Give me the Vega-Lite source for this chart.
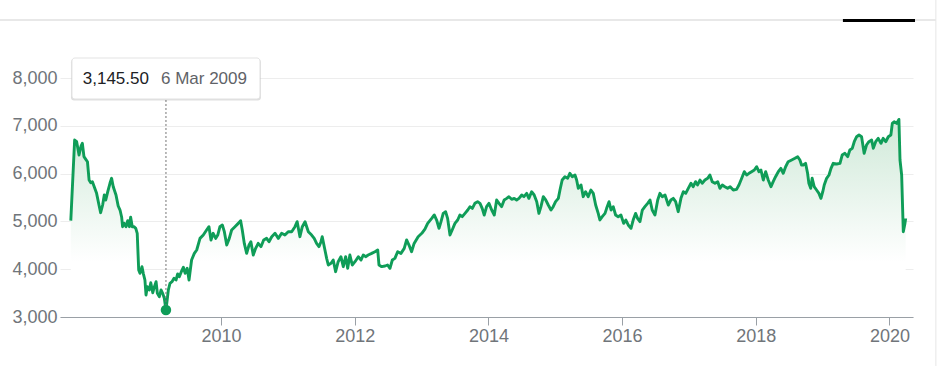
{
  "$schema": "https://vega.github.io/schema/vega-lite/v6.json",
  "width": 853,
  "height": 239,
  "autosize": {"type": "none"},
  "padding": {"left": 60, "top": 78, "right": 26, "bottom": 49},
  "background": "#ffffff",
  "config": {
    "view": {"stroke": null},
    "font": "Liberation Sans",
    "axis": {"labelFont": "Liberation Sans", "labelFontSize": 18, "labelColor": "#70757a", "title": null}
  },
  "datasets": {
    "prices": [
      {"date":"2007-10-03","close":5015},{"date":"2007-10-24","close":6703},{"date":"2007-11-04","close":6667},{"date":"2007-11-17","close":6389},{"date":"2007-11-28","close":6577},{"date":"2007-12-05","close":6634},{"date":"2007-12-14","close":6354},{"date":"2007-12-24","close":6299},
      {"date":"2008-01-02","close":6249},{"date":"2008-01-11","close":5866},{"date":"2008-01-20","close":5810},{"date":"2008-01-29","close":5831},{"date":"2008-02-08","close":5726},{"date":"2008-02-21","close":5587},{"date":"2008-03-05","close":5343},{"date":"2008-03-14","close":5182},{"date":"2008-03-25","close":5343},{"date":"2008-04-03","close":5552},{"date":"2008-04-11","close":5448},{"date":"2008-04-22","close":5621},{"date":"2008-05-04","close":5797},{"date":"2008-05-13","close":5902},{"date":"2008-05-22","close":5726},{"date":"2008-06-06","close":5552},{"date":"2008-06-18","close":5322},{"date":"2008-06-28","close":5238},{"date":"2008-07-07","close":5086},{"date":"2008-07-12","close":4889},{"date":"2008-07-21","close":4959},{"date":"2008-07-31","close":4889},{"date":"2008-08-09","close":5015},{"date":"2008-08-18","close":4889},{"date":"2008-08-25","close":5086},{"date":"2008-09-03","close":4889},{"date":"2008-09-12","close":4889},{"date":"2008-09-22","close":4855},{"date":"2008-09-30","close":4751},{"date":"2008-10-08","close":3983},{"date":"2008-10-15","close":3914},{"date":"2008-10-26","close":4053},{"date":"2008-11-02","close":3914},{"date":"2008-11-11","close":3774},{"date":"2008-11-17","close":3460},{"date":"2008-11-24","close":3634},{"date":"2008-12-05","close":3565},{"date":"2008-12-13","close":3718},{"date":"2008-12-24","close":3508},
      {"date":"2009-01-02","close":3634},{"date":"2009-01-11","close":3739},{"date":"2009-01-18","close":3495},{"date":"2009-01-29","close":3425},{"date":"2009-02-07","close":3565},{"date":"2009-02-16","close":3495},{"date":"2009-02-25","close":3391},{"date":"2009-03-06","close":3145.5},{"date":"2009-03-19","close":3565},{"date":"2009-03-28","close":3704},{"date":"2009-04-08","close":3739},{"date":"2009-04-19","close":3809},{"date":"2009-04-30","close":3774},{"date":"2009-05-09","close":3900},{"date":"2009-05-18","close":3843},{"date":"2009-05-29","close":3948},{"date":"2009-06-09","close":4040},{"date":"2009-06-19","close":3914},{"date":"2009-06-30","close":4019},{"date":"2009-07-10","close":3774},{"date":"2009-07-24","close":4192},{"date":"2009-08-08","close":4331},{"date":"2009-08-21","close":4402},{"date":"2009-09-08","close":4645},{"date":"2009-09-26","close":4715},{"date":"2009-10-14","close":4820},{"date":"2009-10-27","close":4889},{"date":"2009-11-07","close":4611},{"date":"2009-11-19","close":4751},{"date":"2009-12-03","close":4645},{"date":"2009-12-14","close":4715},{"date":"2009-12-26","close":4889},
      {"date":"2010-01-08","close":4925},{"date":"2010-01-19","close":4785},{"date":"2010-02-01","close":4506},{"date":"2010-02-15","close":4645},{"date":"2010-02-28","close":4820},{"date":"2010-03-18","close":4889},{"date":"2010-04-05","close":4959},{"date":"2010-04-18","close":5015},{"date":"2010-04-27","close":4820},{"date":"2010-05-08","close":4540},{"date":"2010-05-21","close":4331},{"date":"2010-06-03","close":4506},{"date":"2010-06-13","close":4575},{"date":"2010-06-26","close":4297},{"date":"2010-07-09","close":4436},{"date":"2010-07-23","close":4540},{"date":"2010-08-07","close":4471},{"date":"2010-08-22","close":4611},{"date":"2010-09-07","close":4645},{"date":"2010-09-20","close":4575},{"date":"2010-10-05","close":4680},{"date":"2010-10-23","close":4751},{"date":"2010-11-10","close":4645},{"date":"2010-11-28","close":4751},{"date":"2010-12-16","close":4715},
      {"date":"2011-01-03","close":4785},{"date":"2011-01-22","close":4785},{"date":"2011-02-09","close":4889},{"date":"2011-02-21","close":4994},{"date":"2011-03-08","close":4680},{"date":"2011-03-21","close":4889},{"date":"2011-04-05","close":4994},{"date":"2011-04-23","close":4785},{"date":"2011-05-11","close":4715},{"date":"2011-05-25","close":4645},{"date":"2011-06-07","close":4540},{"date":"2011-06-20","close":4471},{"date":"2011-07-01","close":4575},{"date":"2011-07-08","close":4680},{"date":"2011-07-19","close":4471},{"date":"2011-08-01","close":4227},{"date":"2011-08-10","close":4088},{"date":"2011-08-25","close":4123},{"date":"2011-09-06","close":4192},{"date":"2011-09-19","close":3948},{"date":"2011-10-03","close":4157},{"date":"2011-10-18","close":4262},{"date":"2011-10-31","close":4053},{"date":"2011-11-13","close":4262},{"date":"2011-11-24","close":4019},{"date":"2011-12-06","close":4297},{"date":"2011-12-19","close":4088},
      {"date":"2012-01-03","close":4157},{"date":"2012-01-21","close":4262},{"date":"2012-02-05","close":4192},{"date":"2012-02-17","close":4297},{"date":"2012-03-01","close":4262},{"date":"2012-03-15","close":4297},{"date":"2012-04-03","close":4331},{"date":"2012-04-21","close":4366},{"date":"2012-05-06","close":4402},{"date":"2012-05-13","close":4088},{"date":"2012-05-28","close":4053},{"date":"2012-06-15","close":4067},{"date":"2012-06-29","close":4088},{"date":"2012-07-12","close":4019},{"date":"2012-07-25","close":4192},{"date":"2012-08-08","close":4227},{"date":"2012-08-23","close":4366},{"date":"2012-09-10","close":4331},{"date":"2012-09-28","close":4436},{"date":"2012-10-11","close":4611},{"date":"2012-10-24","close":4506},{"date":"2012-11-07","close":4366},{"date":"2012-11-21","close":4540},{"date":"2012-12-13","close":4680},
      {"date":"2013-01-02","close":4751},{"date":"2013-01-19","close":4840},{"date":"2013-02-03","close":4960},{"date":"2013-02-25","close":5064},{"date":"2013-03-11","close":5134},{"date":"2013-03-24","close":5029},{"date":"2013-04-06","close":4855},{"date":"2013-04-17","close":4994},{"date":"2013-04-29","close":5168},{"date":"2013-05-12","close":5203},{"date":"2013-05-23","close":5064},{"date":"2013-06-05","close":4715},{"date":"2013-06-17","close":4820},{"date":"2013-07-02","close":4959},{"date":"2013-07-17","close":5029},{"date":"2013-07-29","close":5134},{"date":"2013-08-11","close":5099},{"date":"2013-08-26","close":5168},{"date":"2013-09-10","close":5238},{"date":"2013-09-22","close":5308},{"date":"2013-10-05","close":5273},{"date":"2013-10-19","close":5378},{"date":"2013-11-03","close":5413},{"date":"2013-11-16","close":5378},{"date":"2013-11-28","close":5273},{"date":"2013-12-09","close":5134},{"date":"2013-12-22","close":5308},
      {"date":"2014-01-04","close":5378},{"date":"2014-01-19","close":5238},{"date":"2014-02-02","close":5134},{"date":"2014-02-15","close":5448},{"date":"2014-02-28","close":5378},{"date":"2014-03-14","close":5308},{"date":"2014-03-28","close":5448},{"date":"2014-04-11","close":5482},{"date":"2014-04-23","close":5517},{"date":"2014-05-08","close":5462},{"date":"2014-05-22","close":5482},{"date":"2014-06-04","close":5448},{"date":"2014-06-17","close":5482},{"date":"2014-07-02","close":5552},{"date":"2014-07-14","close":5517},{"date":"2014-07-29","close":5587},{"date":"2014-08-10","close":5482},{"date":"2014-08-25","close":5621},{"date":"2014-09-08","close":5552},{"date":"2014-09-22","close":5413},{"date":"2014-10-04","close":5168},{"date":"2014-10-15","close":5308},{"date":"2014-10-28","close":5517},{"date":"2014-11-10","close":5450},{"date":"2014-11-24","close":5343},{"date":"2014-12-09","close":5238},{"date":"2014-12-21","close":5308},
      {"date":"2015-01-03","close":5413},{"date":"2015-01-18","close":5482},{"date":"2015-01-27","close":5657},{"date":"2015-02-08","close":5866},{"date":"2015-02-23","close":5935},{"date":"2015-03-10","close":5902},{"date":"2015-03-22","close":6006},{"date":"2015-04-04","close":5935},{"date":"2015-04-19","close":5971},{"date":"2015-04-28","close":5866},{"date":"2015-05-07","close":5692},{"date":"2015-05-22","close":5762},{"date":"2015-06-03","close":5517},{"date":"2015-06-16","close":5621},{"date":"2015-06-30","close":5517},{"date":"2015-07-15","close":5657},{"date":"2015-07-28","close":5587},{"date":"2015-08-10","close":5343},{"date":"2015-08-24","close":5168},{"date":"2015-09-02","close":5029},{"date":"2015-09-15","close":5099},{"date":"2015-09-30","close":5168},{"date":"2015-10-09","close":5273},{"date":"2015-10-22","close":5413},{"date":"2015-11-02","close":5238},{"date":"2015-11-14","close":5308},{"date":"2015-11-27","close":5134},{"date":"2015-12-11","close":5099},{"date":"2015-12-26","close":5134},
      {"date":"2016-01-10","close":4959},{"date":"2016-01-22","close":5029},{"date":"2016-02-04","close":4925},{"date":"2016-02-19","close":4855},{"date":"2016-03-02","close":5029},{"date":"2016-03-15","close":5168},{"date":"2016-03-26","close":5064},{"date":"2016-04-08","close":4994},{"date":"2016-04-21","close":5238},{"date":"2016-05-05","close":5308},{"date":"2016-05-20","close":5378},{"date":"2016-06-02","close":5448},{"date":"2016-06-14","close":5238},{"date":"2016-06-29","close":5134},{"date":"2016-07-14","close":5448},{"date":"2016-07-26","close":5587},{"date":"2016-08-08","close":5517},{"date":"2016-08-23","close":5552},{"date":"2016-09-10","close":5343},{"date":"2016-09-24","close":5448},{"date":"2016-10-07","close":5482},{"date":"2016-10-20","close":5413},{"date":"2016-11-03","close":5203},{"date":"2016-11-18","close":5482},{"date":"2016-12-01","close":5621},{"date":"2016-12-14","close":5587},{"date":"2016-12-28","close":5692},
      {"date":"2017-01-12","close":5797},{"date":"2017-01-24","close":5726},{"date":"2017-02-06","close":5831},{"date":"2017-02-17","close":5762},{"date":"2017-03-02","close":5866},{"date":"2017-03-14","close":5797},{"date":"2017-03-29","close":5866},{"date":"2017-04-13","close":5902},{"date":"2017-04-25","close":5971},{"date":"2017-05-08","close":5831},{"date":"2017-05-23","close":5797},{"date":"2017-06-07","close":5831},{"date":"2017-06-19","close":5692},{"date":"2017-07-02","close":5762},{"date":"2017-07-16","close":5726},{"date":"2017-07-31","close":5692},{"date":"2017-08-14","close":5726},{"date":"2017-08-31","close":5657},{"date":"2017-09-18","close":5671},{"date":"2017-10-01","close":5762},{"date":"2017-10-16","close":5902},{"date":"2017-10-30","close":6040},{"date":"2017-11-12","close":5971},{"date":"2017-11-25","close":6006},{"date":"2017-12-09","close":6040},{"date":"2017-12-24","close":6075},
      {"date":"2018-01-06","close":6144},{"date":"2018-01-18","close":6040},{"date":"2018-01-29","close":6075},{"date":"2018-02-11","close":5866},{"date":"2018-02-24","close":6040},{"date":"2018-03-10","close":5866},{"date":"2018-03-25","close":5726},{"date":"2018-04-06","close":5831},{"date":"2018-04-19","close":5935},{"date":"2018-05-04","close":6040},{"date":"2018-05-18","close":6110},{"date":"2018-05-31","close":6006},{"date":"2018-06-13","close":6144},{"date":"2018-06-27","close":6249},{"date":"2018-07-16","close":6285},{"date":"2018-08-03","close":6320},{"date":"2018-08-18","close":6354},{"date":"2018-08-30","close":6285},{"date":"2018-09-08","close":6180},{"date":"2018-09-17","close":6180},{"date":"2018-09-30","close":6215},{"date":"2018-10-11","close":6006},{"date":"2018-10-18","close":5797},{"date":"2018-10-28","close":5692},{"date":"2018-11-05","close":5902},{"date":"2018-11-16","close":5726},{"date":"2018-11-29","close":5657},{"date":"2018-12-12","close":5587},{"date":"2018-12-23","close":5482},
      {"date":"2019-01-02","close":5621},{"date":"2019-01-10","close":5762},{"date":"2019-01-23","close":5902},{"date":"2019-02-05","close":5971},{"date":"2019-02-16","close":6110},{"date":"2019-02-28","close":6215},{"date":"2019-03-19","close":6201},{"date":"2019-04-06","close":6215},{"date":"2019-04-18","close":6389},{"date":"2019-05-03","close":6424},{"date":"2019-05-18","close":6354},{"date":"2019-05-30","close":6494},{"date":"2019-06-12","close":6529},{"date":"2019-06-23","close":6667},{"date":"2019-07-06","close":6771},{"date":"2019-07-19","close":6807},{"date":"2019-08-02","close":6771},{"date":"2019-08-16","close":6424},{"date":"2019-08-29","close":6598},{"date":"2019-09-11","close":6667},{"date":"2019-09-26","close":6703},{"date":"2019-10-05","close":6529},{"date":"2019-10-18","close":6667},{"date":"2019-11-01","close":6737},{"date":"2019-11-16","close":6633},{"date":"2019-11-28","close":6737},{"date":"2019-12-12","close":6667},{"date":"2019-12-26","close":6771},
      {"date":"2020-01-09","close":6807},{"date":"2020-01-17","close":7050},{"date":"2020-01-27","close":7085},{"date":"2020-02-10","close":7050},{"date":"2020-02-22","close":7134},{"date":"2020-02-28","close":6285},{"date":"2020-03-08","close":5971},{"date":"2020-03-17","close":4785},{"date":"2020-03-26","close":4959},{"date":"2020-03-30","close":5064}
    ],
    "hover": [
      {"date":"2009-03-06","close":3145.5,"price":"3,145.50","day":"6 Mar 2009"}
    ]
  },
  "encoding": {
    "x": {
      "field": "date", "type": "temporal",
      "scale": {"domain": [{"year":2007,"month":8,"date":5},{"year":2020,"month":5,"date":9}]},
      "axis": {
        "values": [{"year":2010,"month":1,"date":1},{"year":2012,"month":1,"date":1},{"year":2014,"month":1,"date":1},{"year":2016,"month":1,"date":1},{"year":2018,"month":1,"date":1},{"year":2020,"month":1,"date":1}],
        "format": "%Y", "grid": false, "domain": true, "domainColor": "#9aa0a6", "domainWidth": 1,
        "ticks": true, "tickColor": "#9aa0a6", "tickSize": 8, "labelPadding": 2, "labelFlush": false
      }
    },
    "y": {
      "field": "close", "type": "quantitative",
      "scale": {"domain": [3000, 8000], "zero": false, "nice": false},
      "axis": {
        "values": [3000, 4000, 5000, 6000, 7000, 8000], "format": ",.0f",
        "domain": false, "ticks": false, "labelPadding": 3,
        "grid": true, "gridColor": "#ededed", "gridWidth": 1
      }
    }
  },
  "layer": [
    {
      "data": {"name": "prices"},
      "mark": {
        "type": "area", "line": false,
        "color": {"gradient": "linear", "x1": 0, "y1": 0, "x2": 0, "y2": 1,
          "stops": [{"offset": 0, "color": "#cfe9d8"}, {"offset": 0.72, "color": "#ffffff"}, {"offset": 1, "color": "#ffffff"}]}
      },
      "encoding": {"y2": {"datum": 3000}}
    },
    {
      "data": {"name": "prices"},
      "mark": {"type": "line", "color": "#0f9d58", "strokeWidth": 2.9, "strokeJoin": "round"}
    },
    {
      "data": {"name": "hover"},
      "mark": {"type": "rule", "color": "#757575", "strokeWidth": 1, "strokeDash": [2, 2]},
      "encoding": {"y": {"datum": 7540}, "y2": {"field": "close"}}
    },
    {
      "data": {"name": "hover"},
      "mark": {"type": "point", "filled": true, "color": "#0f9d58", "size": 110, "opacity": 1}
    },
    {
      "data": {"name": "hover"},
      "mark": {"type": "point", "filled": true, "color": "#000000", "opacity": 0.13, "size": 36100,
        "shape": "M-0.968,-0.218H0.968A0.032,0.032 0 0 1 1,-0.186V0.186A0.032,0.032 0 0 1 0.968,0.218H-0.968A0.032,0.032 0 0 1 -1,0.186V-0.186A0.032,0.032 0 0 1 -0.968,-0.218Z"},
      "encoding": {"y": {"datum": 7962}}
    },
    {
      "data": {"name": "hover"},
      "mark": {"type": "point", "filled": true, "fill": "#ffffff", "stroke": "#e3e3e3", "strokeWidth": 1, "opacity": 1, "size": 35344,
        "shape": "M-0.968,-0.218H0.968A0.032,0.032 0 0 1 1,-0.186V0.186A0.032,0.032 0 0 1 0.968,0.218H-0.968A0.032,0.032 0 0 1 -1,0.186V-0.186A0.032,0.032 0 0 1 -0.968,-0.218Z"},
      "encoding": {"y": {"datum": 7990}}
    },
    {
      "data": {"name": "hover"},
      "mark": {"type": "text", "align": "right", "baseline": "alphabetic", "dx": -17, "dy": 6, "font": "Liberation Sans", "fontSize": 17, "color": "#202124"},
      "encoding": {"y": {"datum": 8000}, "text": {"field": "price"}}
    },
    {
      "data": {"name": "hover"},
      "mark": {"type": "text", "align": "left", "baseline": "alphabetic", "dx": -5, "dy": 6, "font": "Liberation Sans", "fontSize": 17, "color": "#5f6368"},
      "encoding": {"y": {"datum": 8000}, "text": {"field": "day"}}
    },
    {
      "data": {"name": "hover"},
      "mark": {"type": "rule", "color": "#e0e0e0", "strokeWidth": 1.5},
      "encoding": {
        "x": {"datum": {"year":2006,"month":9,"date":11}},
        "x2": {"datum": {"year":2020,"month":9,"date":11}},
        "y": {"datum": 9213}
      }
    },
    {
      "data": {"name": "hover"},
      "mark": {"type": "rule", "color": "#e6e6e6", "strokeWidth": 1},
      "encoding": {
        "x": {"datum": {"year":2020,"month":9,"date":11}},
        "y": {"datum": 9632},
        "y2": {"datum": 1975}
      }
    },
    {
      "data": {"name": "hover"},
      "mark": {"type": "rule", "color": "#000000", "strokeWidth": 3},
      "encoding": {
        "x": {"datum": {"year":2019,"month":4,"date":22}},
        "x2": {"datum": {"year":2020,"month":5,"date":20}},
        "y": {"datum": 9203}
      }
    }
  ]
}
